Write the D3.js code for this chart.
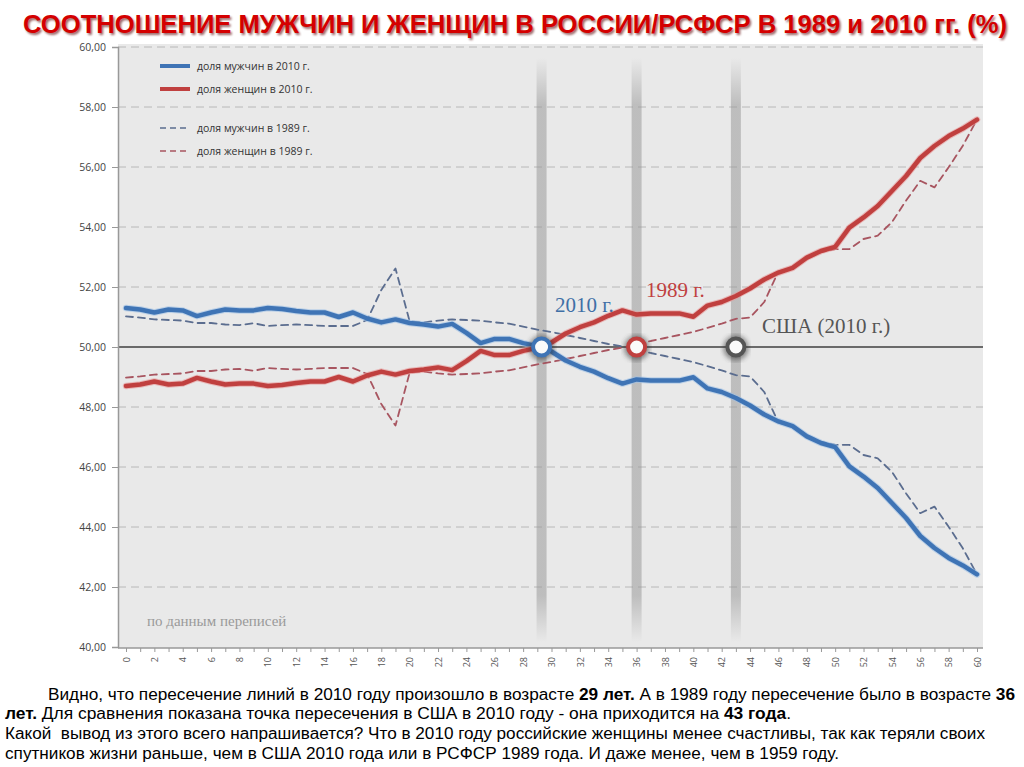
<!DOCTYPE html>
<html><head><meta charset="utf-8">
<script src="https://cdn.jsdelivr.net/npm/d3@7"></script>
<style>body{margin:0;background:#fff}svg{display:block}</style>
</head><body>
<svg id="c" width="1024" height="767"></svg>
<script>
const ages = d3.range(0, 61);
const male2010 = [51.30,51.25,51.15,51.25,51.22,51.03,51.15,51.25,51.22,51.22,51.30,51.27,51.20,51.15,51.15,51.00,51.15,50.95,50.82,50.92,50.80,50.75,50.68,50.77,50.47,50.13,50.27,50.27,50.13,50.03,49.85,49.55,49.34,49.18,48.96,48.78,48.92,48.88,48.88,48.88,48.99,48.62,48.50,48.30,48.05,47.75,47.52,47.36,47.02,46.80,46.66,46.02,45.68,45.30,44.80,44.30,43.70,43.30,42.97,42.72,42.42];
const female2010 = [48.70,48.75,48.85,48.75,48.78,48.97,48.85,48.75,48.78,48.78,48.70,48.73,48.80,48.85,48.85,49.00,48.85,49.05,49.18,49.08,49.20,49.25,49.32,49.23,49.53,49.87,49.73,49.73,49.87,49.97,50.15,50.45,50.66,50.82,51.04,51.22,51.08,51.12,51.12,51.12,51.01,51.38,51.50,51.70,51.95,52.25,52.48,52.64,52.98,53.20,53.34,53.98,54.32,54.70,55.20,55.70,56.30,56.70,57.03,57.28,57.58];
const male1989 = [51.02,50.98,50.92,50.90,50.88,50.80,50.80,50.75,50.73,50.79,50.70,50.73,50.75,50.73,50.70,50.70,50.70,50.90,51.90,52.62,50.85,50.82,50.88,50.92,50.90,50.88,50.82,50.78,50.68,50.58,50.50,50.40,50.30,50.20,50.10,50.02,49.92,49.80,49.70,49.60,49.50,49.36,49.22,49.06,49.02,48.50,47.48,47.36,47.07,46.84,46.74,46.74,46.40,46.29,45.84,45.12,44.46,44.68,44.01,43.29,42.42];
const female1989 = [48.98,49.02,49.08,49.10,49.12,49.20,49.20,49.25,49.27,49.21,49.30,49.27,49.25,49.27,49.30,49.30,49.30,49.10,48.10,47.38,49.15,49.18,49.12,49.08,49.10,49.12,49.18,49.22,49.32,49.42,49.50,49.60,49.70,49.80,49.90,49.98,50.08,50.20,50.30,50.40,50.50,50.64,50.78,50.94,50.98,51.50,52.52,52.64,52.93,53.16,53.26,53.26,53.60,53.71,54.16,54.88,55.54,55.32,55.99,56.71,57.58];
const yTicks = [40,42,44,46,48,50,52,54,56,58,60];
const crossAges = [29.3, 36, 43];
const crossColors = ["#3f74b5", "#c0403f", "#555555"];
const legendLabels = ["доля мужчин в 2010 г.", "доля женщин в 2010 г.", "доля мужчин в 1989 г.", "доля женщин в 1989 г."];
const titleText = "СООТНОШЕНИЕ МУЖЧИН И ЖЕНЩИН В РОССИИ/РСФСР В 1989 и 2010 гг. (%)";

const svg = d3.select("#c");
const x = d3.scaleLinear().domain([0, 60]).range([126, 977]);
const y = d3.scaleLinear().domain([40, 60]).range([647, 47]);
const L = 118, R = 983, T = 44, B = 648;

const defs = svg.append("defs");
const g1 = defs.append("linearGradient").attr("id","band").attr("x1",0).attr("y1",0).attr("x2",0).attr("y2",1);
[[0,0],[0.08,0.55],[0.92,0.55],[1,0]].forEach(s=>g1.append("stop").attr("offset",s[0]).attr("stop-color","#9a9a9a").attr("stop-opacity",s[1]));
defs.append("filter").attr("id","blur").append("feGaussianBlur").attr("stdDeviation",2.5);
defs.append("filter").attr("id","blur1").append("feGaussianBlur").attr("stdDeviation",1);

// title
const tf = "Liberation Sans, Arial, sans-serif";
svg.append("text").attr("x", 23+1.5).attr("y", 33+1.5).attr("textLength", 984).attr("lengthAdjust","spacingAndGlyphs")
  .attr("font-family",tf).attr("font-weight","bold").attr("font-size",26)
  .attr("fill","#5a0000").attr("opacity",0.6).attr("filter","url(#blur1)").text(titleText);
svg.append("text").attr("x", 23).attr("y", 33).attr("textLength", 984).attr("lengthAdjust","spacingAndGlyphs")
  .attr("font-family",tf).attr("font-weight","bold").attr("font-size",26)
  .attr("fill","#d40000").text(titleText);

// plot bg
svg.append("rect").attr("x",L).attr("y",T).attr("width",R-L).attr("height",B-T).attr("fill","#e9e9e9");

// grid
svg.append("g").selectAll("line").data(yTicks.filter(v=>v!==40 && v!==50)).join("line")
  .attr("x1",L).attr("x2",R).attr("y1",d=>y(d)).attr("y2",d=>y(d))
  .attr("stroke","#b8b8b8").attr("stroke-width",1).attr("stroke-dasharray","8,5");

// bands
svg.append("g").selectAll("rect.b").data(crossAges).join("rect").attr("class","b")
  .attr("x",d=>x(d)-5).attr("width",10).attr("y",58).attr("height",584).attr("fill","url(#band)");

// 50 line
svg.append("line").attr("x1",L).attr("x2",R).attr("y1",y(50)).attr("y2",y(50)).attr("stroke","#6a6a6a").attr("stroke-width",2);

// y axis
const yAxis = svg.append("g").attr("transform",`translate(${L},0)`)
  .call(d3.axisLeft(y).tickValues(yTicks).tickSize(6).tickFormat(d=>d3.format(".2f")(d).replace(".",",")));
yAxis.select(".domain").attr("stroke","#999").attr("stroke-width",1.5);
yAxis.selectAll(".tick line").attr("stroke","#999");
yAxis.selectAll("text").attr("font-family","Open Sans, DejaVu Sans, sans-serif").attr("font-size",10.5).attr("fill","#444").attr("x",-12);

// x axis
const xAxis = svg.append("g").attr("transform",`translate(0,${B})`)
  .call(d3.axisBottom(x).tickValues(ages).tickSize(4).tickFormat(d=>d%2===0?d:""));
xAxis.select(".domain").attr("d",`M${L},0H${R}`).attr("stroke","#999").attr("stroke-width",1.5);
xAxis.selectAll(".tick line").attr("stroke","#999");
xAxis.selectAll("text").attr("font-family","Open Sans, DejaVu Sans, sans-serif").attr("font-size",9).attr("fill","#555")
  .attr("transform","rotate(-90)").attr("text-anchor","end").attr("x",-9).attr("y",0).attr("dy","0.35em");

// lines
const line = d3.line().x((d,i)=>x(ages[i])).y(d=>y(d));
const lg = svg.append("g").attr("fill","none").attr("stroke-linejoin","round").attr("stroke-linecap","round");
lg.append("path").attr("d",line(male1989)).attr("stroke","#5b6d8f").attr("stroke-width",1.8).attr("stroke-dasharray","7,5");
lg.append("path").attr("d",line(female1989)).attr("stroke","#a85560").attr("stroke-width",1.8).attr("stroke-dasharray","7,5");
lg.append("path").attr("d",line(male2010)).attr("stroke","#9cc0e6").attr("stroke-width",6.5).attr("opacity",0.6);
lg.append("path").attr("d",line(male2010)).attr("stroke","#3f74b5").attr("stroke-width",4.5);
lg.append("path").attr("d",line(female2010)).attr("stroke","#e89a9a").attr("stroke-width",6.5).attr("opacity",0.6);
lg.append("path").attr("d",line(female2010)).attr("stroke","#c0403f").attr("stroke-width",4.5);

// circles
const cg = svg.append("g");
cg.selectAll("circle.s").data(crossAges).join("circle").attr("class","s")
  .attr("cx",d=>x(d)).attr("cy",y(50)+1).attr("r",12.5).attr("fill","#333").attr("opacity",0.55).attr("filter","url(#blur)");
cg.selectAll("circle.c").data(crossAges).join("circle").attr("class","c")
  .attr("cx",d=>x(d)).attr("cy",y(50)).attr("r",8.5).attr("fill","#fafafa")
  .attr("stroke",(d,i)=>crossColors[i]).attr("stroke-width",4);

// annotations
const serif = "Liberation Serif, DejaVu Serif, serif";
svg.append("text").attr("x",555).attr("y",312).attr("font-family",serif).attr("font-size",21).attr("fill","#3f6fa6").text("2010 г.");
svg.append("text").attr("x",646).attr("y",297).attr("font-family",serif).attr("font-size",21).attr("fill","#c0403f").text("1989 г.");
svg.append("text").attr("x",762).attr("y",333).attr("font-family",serif).attr("font-size",21).attr("fill","#555").text("США (2010 г.)");
svg.append("text").attr("x",147).attr("y",626).attr("font-family",serif).attr("font-size",15).attr("fill","#9a9a9a").text("по данным переписей");

// legend
const legY = [66, 89, 128, 151];
const legStyles = [
  {c:"#3f74b5", w:4, dash:null},
  {c:"#c0403f", w:4, dash:null},
  {c:"#5b6d8f", w:1.5, dash:"6,4"},
  {c:"#a85560", w:1.5, dash:"6,4"}];
const leg = svg.append("g");
leg.selectAll("line").data(legendLabels).join("line")
  .attr("x1",160).attr("x2",190).attr("y1",(d,i)=>legY[i]).attr("y2",(d,i)=>legY[i])
  .attr("stroke",(d,i)=>legStyles[i].c).attr("stroke-width",(d,i)=>legStyles[i].w)
  .attr("stroke-dasharray",(d,i)=>legStyles[i].dash);
leg.selectAll("text").data(legendLabels).join("text")
  .attr("x",197).attr("y",(d,i)=>legY[i]+3.5).attr("font-family","Open Sans, DejaVu Sans, sans-serif")
  .attr("font-size",10.5).attr("fill","#333").text(d=>d);

// bottom text
const bf = "Liberation Sans, Arial, sans-serif";
const paras = [
  {x:48, y:700, w:967, parts:[["Видно, что пересечение линий в 2010 году произошло в возрасте ",0],["29 лет.",1],[" А в 1989 году пересечение было в возрасте ",0],["36",1]]},
  {x:5, y:719, w:786, parts:[["лет.",1],[" Для сравнения показана точка пересечения в США в 2010 году - она приходится на ",0],["43 года",1],[".",0]]},
  {x:5, y:739, w:980, parts:[["Какой  вывод из этого всего напрашивается? Что в 2010 году российские женщины менее счастливы, так как теряли своих",0]]},
  {x:5, y:759, w:834, parts:[["спутников жизни раньше, чем в США 2010 года или в РСФСР 1989 года. И даже менее, чем в 1959 году.",0]]}
];
paras.forEach(p=>{
  const t = svg.append("text").attr("x",p.x).attr("y",p.y).attr("font-family",bf).attr("font-size",16).attr("fill","#000")
    .attr("textLength",p.w).attr("lengthAdjust","spacingAndGlyphs").style("white-space","pre");
  p.parts.forEach(q=>t.append("tspan").attr("font-weight",q[1]?"bold":"normal").text(q[0]));
});
</script>
</body></html>
